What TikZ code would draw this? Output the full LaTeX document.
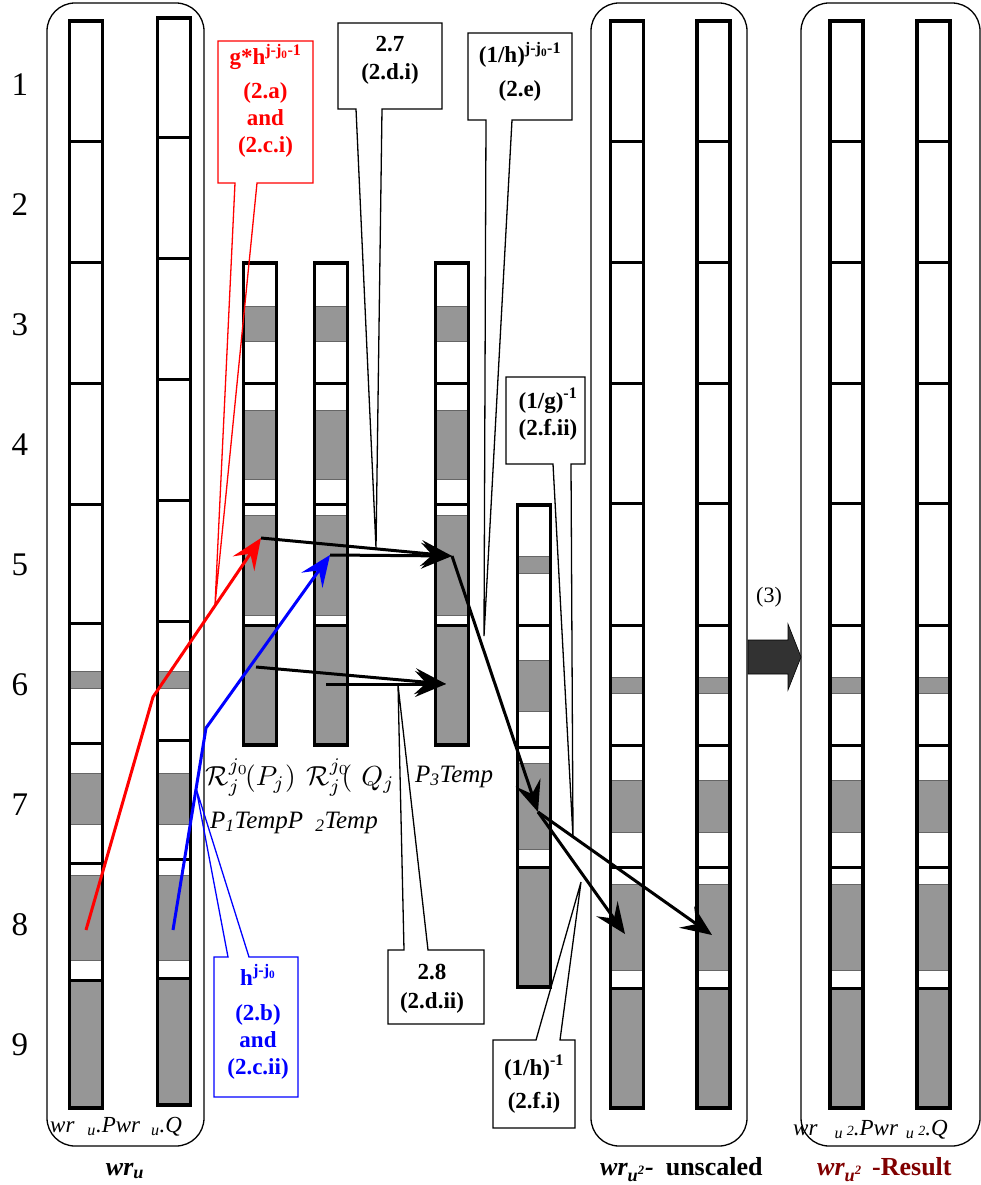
\documentclass[tikz,border=0pt]{standalone}
\usepackage{fontspec}
\setmainfont{Liberation Serif}
\usepackage{graphicx}
\usetikzlibrary{arrows.meta}

\definecolor{cellgray}{RGB}{150,150,150}
\definecolor{blockgray}{RGB}{50,50,50}
\definecolor{darkred}{RGB}{128,0,0}

% a vertical strip: left x, top y, bottom y, divider ys, shaded spans top/bottom
\newcommand\stripcol[5]{%
  \fill[white] (#1,#2) rectangle (#1+33,#3);
  \foreach \ya/\yb in {#5}{\filldraw[shadedcell] (#1,\ya) rectangle (#1+33,\yb);}
  \foreach \yd in {#4}{\draw[divider] (#1,\yd) -- (#1+33,\yd);}
  \draw[stripframe] (#1,#2) rectangle (#1+33,#3);
}
% centred lines of a callout, baseline on the first line
\newcommand\calloutlines[1]{\begin{tabular}[t]{@{}c@{}}#1\end{tabular}}

\begin{document}
\begin{tikzpicture}[x=1pt,y=-1pt,
  groupbox/.style={line width=1.3pt, rounded corners=28pt},
  shadedcell/.style={fill=cellgray, draw=black!60, line width=0.7pt},
  divider/.style={line width=3pt},
  stripframe/.style={line width=3.3pt},
  arr/.style={line width=3pt, line join=miter, -{Stealth[length=31pt,width=26pt,inset=12pt]}},
  callout/.style={line width=1.3pt},
  ctext/.style={font=\fontsize{23}{27}\selectfont\bfseries, inner sep=0pt, anchor=base},
  rowlabel/.style={font=\fontsize{33}{36}\selectfont, inner sep=0pt},
  mathlbl/.style={font=\normalsize, inner sep=0pt, anchor=base west},
  templbl/.style={font=\fontsize{25}{28}\selectfont\itshape, inner sep=0pt, anchor=base west},
  pqlbl/.style={font=\fontsize{23}{26}\selectfont\itshape, inner sep=0pt, anchor=base west},
  grouplbl/.style={font=\fontsize{26}{30}\selectfont\bfseries, inner sep=0pt, anchor=base west},
]
\useasboundingbox (0,0) rectangle (981,1185);

% group frames
\draw[groupbox] (47,3) rectangle (204,1146);
\draw[groupbox] (591,3) rectangle (747,1146);
\draw[groupbox] (801,3) rectangle (980,1146);

% row numbers
\foreach \k in {1,...,9}
  \node[rowlabel] (row\k) at (20,{85+120*(\k-1)}) {\k};

% wr_u strips
\stripcol{69.5}{21}{1108}{142,262,383,504,623,743,863,980}{671/688,773/824,875/960,980/1108}
\stripcol{157.5}{18}{1105}{138,258,379,500,621,740,859,978}{671/688,773/824,875/960,978/1105}
% temporary strips
\stripcol{243.5}{263}{745}{383,504,625}{306/341,410/479,515/615,625/745}
\stripcol{314.5}{263}{745}{383,504,625}{306/341,410/479,515/615,625/745}
\stripcol{435.5}{263}{745}{383,504,625}{306/341,410/479,515/615,625/745}
\stripcol{517.5}{505}{987}{625,747,867}{556/573,660/711,763/849,867/987}
% unscaled and result strips
\foreach \xl in {610.5,697,830,917}{%
  \stripcol{\xl}{21}{1108}{142,262,383,503,625,745,867,988}{677/693,780/832,884/970,988/1108}}

% labels of the strips
\node[mathlbl] (rp) at (205,785) {\scalebox{2.75}{$\mathcal{R}_j^{j_0}\!(P_j)$}};
\node[mathlbl] (rq) at (306,785) {\scalebox{2.75}{$\mathcal{R}_j^{j_0}\mkern-6mu(\mkern6mu Q_j$}};
\node[templbl] (t3) at (415,782) {P\textsubscript{3}Temp};
\node[templbl] (t12) at (210,828) {P\textsubscript{1}TempP\hspace{12pt}\textsubscript{2}Temp};
\node[pqlbl] (wupq) at (50,1132) {wr\hspace{13pt}\textsubscript{u}.Pwr\hspace{11pt}\textsubscript{u}.Q};
\node[pqlbl] (wu2pq) at (793,1135) {wr\hspace{17pt}\textsubscript{u}\,{\fontsize{14}{14}\selectfont 2}.Pwr\hspace{8pt}\textsubscript{u}\,{\fontsize{14}{14}\selectfont 2}.Q};

% group captions
\node[grouplbl, anchor=base] (gwu) at (125,1175) {\itshape wr\textsubscript{u}};
\node[grouplbl] (gunsc) at (600,1175) {\textit{wr\textsubscript{u\textsuperscript{2}}-}\hspace{12pt}unscaled};
\node[grouplbl, text=darkred] (gres) at (817,1175) {\textit{wr\textsubscript{u\textsuperscript{2}}}\hspace{10pt}-Result};

% step (3) block arrow
\filldraw[fill=blockgray, draw=black, line width=0.6pt]
  (748,640) -- (788,640) -- (788,624) -- (801,657) -- (788,690) -- (788,674) -- (748,674) -- cycle;
\node[font=\fontsize{22}{26}\selectfont, inner sep=0pt] (lbl3) at (769,597) {(3)};

% points joined by the arrows
\coordinate (redStart) at (86,930);
\coordinate (redBend) at (153,697);
\coordinate (redTip) at (261,538);
\coordinate (blueStart) at (173,930);
\coordinate (blueBend) at (206,728);
\coordinate (blueTip) at (330,555);
\coordinate (p3Top) at (452,556);
\coordinate (p1Low) at (256,667);
\coordinate (p2Low) at (326,684);
\coordinate (p3Low) at (446,684);
\coordinate (p4Pt) at (538,812);
\coordinate (aPt) at (625,934);
\coordinate (bPt) at (712,935);

\draw[arr, red] (redStart) -- (redBend) -- (redTip);
\draw[arr, blue] (blueStart) -- (blueBend) -- (blueTip);
\draw[arr] (redTip) -- (p3Top);
\draw[arr] (blueTip) -- (p3Top);
\draw[arr] (p1Low) -- (p3Low);
\draw[arr] (p2Low) -- (p3Low);
\draw[arr] (p3Top) -- (p4Pt);
\draw[arr] (p4Pt) -- (aPt);
\draw[arr] (p4Pt) -- (bPt);

% callouts
\coordinate (ptrA) at (215,605);
\draw[callout, red] (218,41) -- (313,41) -- (313,183) -- (257,183) -- (ptrA) -- (235,183) -- (218,183) -- cycle;
\node[ctext, text=red] (cA) at (265.5,65) {\calloutlines{g*h\textsuperscript{j-j\textsubscript{0}-1}\\[7pt] (2.a)\\ and\\ (2.c.i)}};

\coordinate (ptrDi) at (376,548);
\draw[callout] (338,23) -- (442,23) -- (442,109) -- (382,109) -- (ptrDi) -- (356,109) -- (338,109) -- cycle;
\node[ctext] (cDi) at (390,52) {\calloutlines{2.7\\[1pt] (2.d.i)}};

\coordinate (ptrE) at (484,636);
\draw[callout] (468,33) -- (572,33) -- (572,120) -- (512,120) -- (ptrE) -- (486,120) -- (468,120) -- cycle;
\node[ctext] (cE) at (520,63) {\calloutlines{(1/h)\textsuperscript{j-j\textsubscript{0}-1}\\[7pt] (2.e)}};

\coordinate (ptrFii) at (573,837);
\draw[callout] (506,377) -- (585,377) -- (585,464) -- (571,464) -- (ptrFii) -- (553,464) -- (506,464) -- cycle;
\node[ctext] (cFii) at (548,408) {\calloutlines{(1/g)\textsuperscript{-1}\\ (2.f.ii)}};

\coordinate (ptrDii) at (398,685);
\draw[callout] (388,950) -- (404,950) -- (ptrDii) -- (428,950) -- (484,950) -- (484,1024) -- (388,1024) -- cycle;
\node[ctext] (cDii) at (432,979) {\calloutlines{2.8\\[2pt] (2.d.ii)}};

\coordinate (ptrB) at (196,788);
\draw[callout, blue] (214,957) -- (228,957) -- (ptrB) -- (249,957) -- (298,957) -- (298,1097) -- (214,1097) -- cycle;
\node[ctext, text=blue] (cB) at (258,985) {\calloutlines{h\textsuperscript{j-j\textsubscript{0}}\\[8pt] (2.b)\\ and\\ (2.c.ii)}};

\coordinate (ptrFi) at (581,882);
\draw[callout] (493,1040) -- (536,1040) -- (ptrFi) -- (560,1040) -- (575,1040) -- (575,1128) -- (493,1128) -- cycle;
\node[ctext] (cFi) at (534,1075) {\calloutlines{(1/h)\textsuperscript{-1}\\[6pt] (2.f.i)}};
\end{tikzpicture}
\end{document}
